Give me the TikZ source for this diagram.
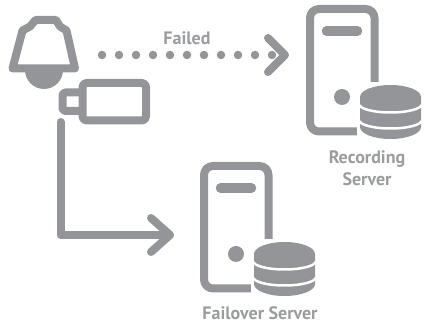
\documentclass[tikz,border=0pt]{standalone}
\usepackage{fontspec}
\setmainfont{PT Sans}
\definecolor{icon}{HTML}{939598}
\definecolor{lab}{HTML}{9A9C9F}
\tikzset{
  x=1pt,y=-1pt,
  stroke/.style={draw=icon,line width=8pt,line join=round,line cap=round},
  lbl/.style={text=lab,font=\fontsize{18}{22}\selectfont\bfseries,align=center,inner sep=0pt},
  server/.pic={
    \draw[stroke,rounded corners=9pt] (374.5,90)--(374.5,9)--(310,9)--(310,131.5)--(358,131.5);
    \draw[icon,line width=9.5pt,line cap=round] (326.5,31)--(357.5,31);
    \fill[icon] (342,97) circle[radius=8];
    \fill[white] (357,82) rectangle (424,142);
    \fill[icon] (360,97)--(421,97)--(421,127) arc[x radius=30.5,y radius=12,start angle=0,end angle=180]--cycle;
    \fill[icon] (390.5,97) ellipse[x radius=30.5,y radius=12];
    \draw[white,line width=2.5pt] (359,104) arc[x radius=31.5,y radius=8.5,start angle=180,end angle=0];
    \draw[white,line width=2.5pt] (359,120) arc[x radius=31.5,y radius=8.5,start angle=180,end angle=0];
    \coordinate (-in) at (306,55);
  }
}
\begin{document}
\begin{tikzpicture}
\useasboundingbox (0,0) rectangle (424,328);
% camera
\fill[icon] (25,70) arc[radius=19,start angle=180,end angle=0]--cycle;
\draw[stroke,fill=white] (12.5,68.5)--(22.5,30.5)--(30,26.5)--(35.5,20)--(56,20)--(60,26.5)--(66.5,30.5)--(75,68.5)--cycle;
\draw[stroke,rounded corners=3pt] (82,92.5)--(62.5,92.5)--(62.5,111)--(82,111);
\draw[stroke,rounded corners=4pt] (82.5,83)rectangle(146,120.5);
\coordinate (cam) at (60.5,122);
\coordinate (camr) at (102,55);
% servers
\pic (rec) at (0,0) {server};
\pic (fail) at (-106,157) {server};
\coordinate (tipa) at (285,55);
\coordinate (tipb) at (170,235);
\coordinate (corner) at (60.5,235);
% connectors
\draw[icon,line width=8.5pt,line cap=round,dash pattern=on 0pt off 17pt] (camr)--(tipa);
\draw[stroke] (268,38)--(tipa)--(268,72);
\draw[stroke] (cam)--(corner)--(tipb);
\draw[stroke] (151,218)--(tipb)--(151,252);
% labels
\node[lbl] (failed) at (187,38) {Failed};
\node[lbl] (rectext) at (367,168) {Recording\\Server};
\node[lbl] (failtext) at (260,313) {Failover Server};
\end{tikzpicture}
\end{document}
